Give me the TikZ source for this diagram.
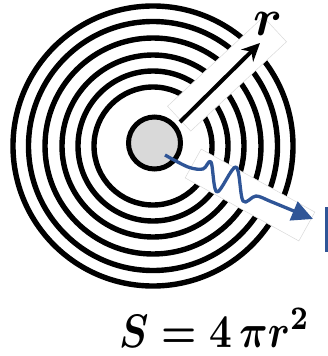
\documentclass[tikz,border=0pt]{standalone}
\usepackage{amsmath}
\usetikzlibrary{arrows.meta}
\definecolor{waveblue}{RGB}{47,85,151}
\definecolor{discgray}{RGB}{217,217,217}
\begin{document}
\begin{tikzpicture}[x=1pt,y=-1pt,
  ring/.style={draw=black,line width=5.4pt},
  mask/.style={fill=white,draw=black!15,line width=0.5pt,inner sep=0pt},
  disc/.style={circle,draw=black,line width=5pt,fill=discgray,minimum size=52pt,inner sep=0pt},
  radial/.style={draw=black,line width=4pt,-{Stealth[length=18pt,width=17pt]}},
  wave/.style={draw=waveblue,line width=3.3pt,line join=round,-{Triangle[length=21pt,width=20pt]}}]
\useasboundingbox (0,0) rectangle (328,356);
\foreach \rr in {59,75,91,108,124.5,140}
  \draw[ring] (153,146) circle[radius=\rr];
\node[mask,minimum width=131pt,minimum height=34pt,rotate=43] (maskr) at (227,74) {};
\node[mask,minimum width=130pt,minimum height=33pt,rotate=-29] (maskw) at (250,195) {};
\node[disc] (src) at (154.5,143) {};
\coordinate (rstart) at (180,122);
\coordinate (rend) at (260,43);
\draw[radial] (rstart) -- (rend);
\coordinate (wstart) at (165,155);
\coordinate (wend) at (313,219);
\draw[wave] plot[smooth,tension=0.55] coordinates {(wstart) (188,167) (203,169) (211,162) (217,192) (236,167) (243,201) (256,196) (272,202) (wend)};
\fill[waveblue] (324.5,207) rectangle (327.5,252);
\node[anchor=base,inner sep=0pt] (rlab) at (268,35) {\scalebox{5.2}{\boldmath$r$}};
\node[anchor=base,inner sep=0pt] (area) at (214.5,347) {\scalebox{3.95}[4.7]{\boldmath$S=4\,\pi r^2$}};
\end{tikzpicture}
\end{document}
